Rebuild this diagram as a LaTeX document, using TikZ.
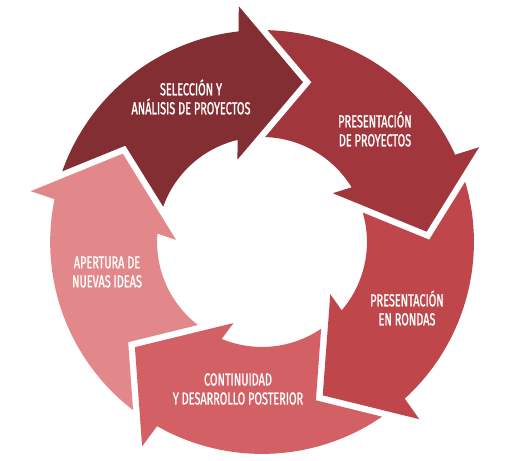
\documentclass[tikz,border=0pt]{standalone}
\usepackage{fontspec}
\setmainfont{Fira Sans}[FakeStretch=0.63,FakeBold=1.2]
\usepackage{tikz}

\definecolor{arrA}{HTML}{832E33}
\definecolor{arrB}{HTML}{A1373C}
\definecolor{arrC}{HTML}{BF464A}
\definecolor{arrD}{HTML}{D26064}
\definecolor{arrE}{HTML}{E2878A}

\begin{document}
\begin{tikzpicture}[scale=0.02636,
    lbl/.style={text=white,align=center,font=\fontsize{13}{14.25}\selectfont}]

  \useasboundingbox (-262,-218) rectangle (248,242);

  \foreach \ang/\col in {75.6/arrA,3.6/arrB,-68.4/arrC,-140.4/arrD,-212.4/arrE}
    \fill[fill=\col,rotate=\ang] (84.9:212) arc[start angle=84.9,end angle=20.74,radius=212]
      -- (20:237) -- (0:165) -- (31:86) -- (27.8:105)
      arc[start angle=27.8,end angle=84.7,radius=105] -- (69.2:167.3) -- cycle;

  \node[lbl] (sel)  at (-71,145)  {SELECCIÓN Y\\ANÁLISIS DE PROYECTOS};
  \node[lbl] (pres) at (113,113)  {PRESENTACIÓN\\DE PROYECTOS};
  \node[lbl] (rond) at (145,-66)  {PRESENTACIÓN\\EN RONDAS};
  \node[lbl] (cont) at (-24,-147) {CONTINUIDAD\\Y DESARROLLO POSTERIOR};
  \node[lbl] (aper) at (-155,-30) {APERTURA DE\\NUEVAS IDEAS};
\end{tikzpicture}
\end{document}
